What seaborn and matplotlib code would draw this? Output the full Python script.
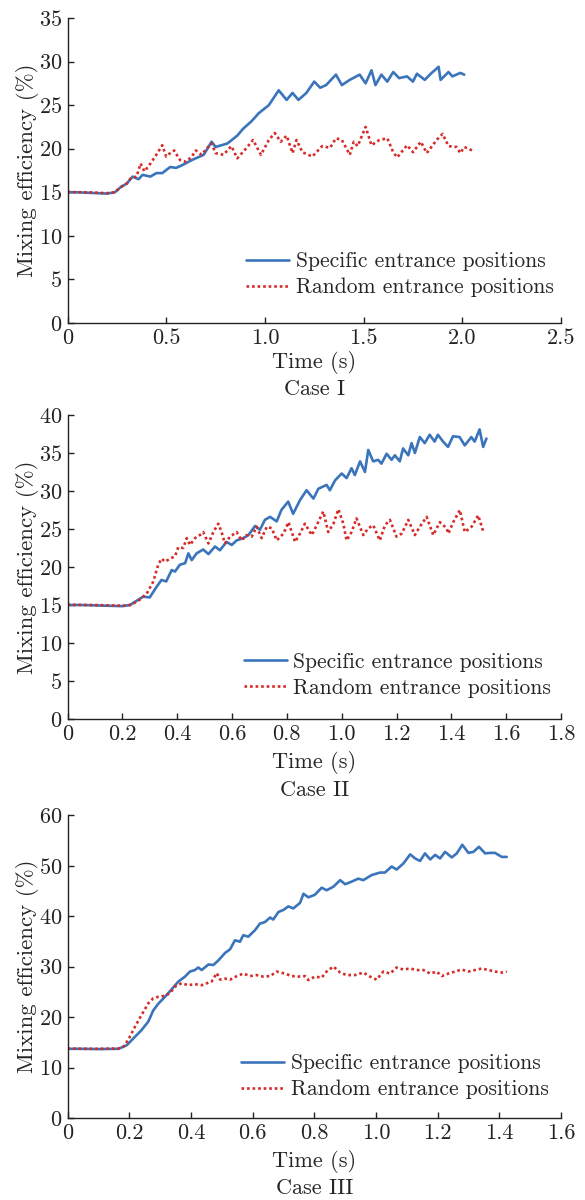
import matplotlib
matplotlib.use("Agg")
import matplotlib.pyplot as plt
import seaborn as sns
import numpy as np

sns.set_style("white")
plt.rcParams['font.family'] = ['cmr10', 'DejaVu Serif']
plt.rcParams['axes.formatter.use_mathtext'] = True
plt.rcParams['mathtext.fontset'] = 'cm'

# ---- Case I ----
t1_spec = [0, 0.05, 0.10, 0.15, 0.20, 0.24, 0.27, 0.30, 0.33, 0.36, 0.38, 0.42, 0.45, 0.48,
           0.52, 0.55, 0.58, 0.63, 0.69, 0.73, 0.75, 0.81, 0.86, 0.89, 0.93, 0.97, 1.02, 1.07,
           1.11, 1.14, 1.17, 1.21, 1.25, 1.28, 1.31, 1.36, 1.39, 1.43, 1.48, 1.51, 1.54, 1.56,
           1.59, 1.62, 1.65, 1.68, 1.72, 1.75, 1.77, 1.81, 1.84, 1.88, 1.89, 1.93, 1.95, 1.99, 2.01]
v1_spec = [15.0, 15.0, 14.95, 14.9, 14.85, 15.0, 15.6, 16.0, 16.8, 16.5, 17.0, 16.8, 17.2, 17.2,
           17.9, 17.8, 18.1, 18.7, 19.3, 20.8, 20.2, 20.6, 21.5, 22.3, 23.1, 24.1, 25.0, 26.7,
           25.6, 26.4, 25.6, 26.4, 27.7, 27.0, 27.3, 28.5, 27.3, 27.9, 28.5, 27.5, 29.0, 27.3,
           28.5, 27.7, 28.8, 28.1, 28.3, 27.7, 28.6, 27.9, 28.6, 29.4, 27.9, 28.8, 28.3, 28.7, 28.5]
t1_rand = [0, 0.05, 0.10, 0.15, 0.20, 0.24, 0.27, 0.30, 0.32, 0.35, 0.37, 0.39, 0.42, 0.45,
           0.48, 0.50, 0.52, 0.54, 0.57, 0.60, 0.63, 0.65, 0.68, 0.70, 0.73, 0.75, 0.79, 0.83,
           0.86, 0.90, 0.94, 0.98, 1.02, 1.05, 1.08, 1.11, 1.14, 1.16, 1.19, 1.24, 1.29, 1.33,
           1.36, 1.39, 1.43, 1.45, 1.47, 1.51, 1.54, 1.58, 1.62, 1.65, 1.67, 1.72, 1.75, 1.79,
           1.82, 1.87, 1.90, 1.93, 1.97, 1.99, 2.01, 2.05]
v1_rand = [15.05, 15.0, 15.0, 14.95, 14.9, 15.0, 15.6, 16.0, 16.6, 16.8, 18.3, 17.4, 18.3, 19.3,
           20.4, 19.1, 19.5, 19.8, 18.7, 18.5, 19.1, 19.8, 19.3, 19.9, 20.6, 19.5, 19.3, 20.3,
           18.9, 19.9, 21.0, 19.3, 21.0, 21.8, 20.8, 21.5, 19.5, 21.0, 19.6, 19.1, 20.3, 20.1,
           21.2, 21.0, 19.3, 20.8, 20.3, 22.5, 20.4, 21.0, 21.2, 19.6, 19.0, 20.4, 19.6, 20.8,
           19.5, 21.0, 21.7, 20.3, 20.2, 19.5, 20.2, 19.8]

# ---- Case II ----
t2_spec = [0, 0.05, 0.10, 0.15, 0.20, 0.228, 0.276, 0.30, 0.325, 0.343, 0.36, 0.38, 0.392, 0.41,
           0.429, 0.441, 0.453, 0.471, 0.495, 0.514, 0.538, 0.556, 0.58, 0.599, 0.617, 0.641,
           0.66, 0.684, 0.702, 0.72, 0.739, 0.763, 0.78, 0.805, 0.823, 0.848, 0.872, 0.897,
           0.915, 0.945, 0.957, 0.976, 1.0, 1.018, 1.036, 1.048, 1.067, 1.085, 1.097, 1.115,
           1.133, 1.145, 1.164, 1.182, 1.194, 1.212, 1.224, 1.243, 1.255, 1.267, 1.285, 1.303,
           1.321, 1.339, 1.351, 1.37, 1.388, 1.406, 1.43, 1.449, 1.473, 1.485, 1.503, 1.516, 1.528]
v2_spec = [15.0, 15.0, 14.95, 14.9, 14.85, 15.0, 16.1, 16.0, 17.4, 18.3, 18.1, 19.6, 19.4, 20.3,
           20.5, 21.8, 20.9, 21.8, 22.3, 21.7, 22.7, 22.2, 23.3, 22.9, 23.5, 23.8,
           24.2, 25.4, 24.9, 26.2, 26.6, 26.0, 27.5, 28.6, 27.0, 28.8, 30.1, 29.0,
           30.3, 30.8, 30.1, 31.4, 32.3, 31.7, 33.0, 32.1, 33.9, 32.5, 35.4, 33.9,
           34.1, 33.6, 34.9, 34.1, 34.7, 33.9, 35.6, 34.7, 36.3, 35.0, 37.1, 36.3,
           37.4, 36.5, 37.4, 36.5, 35.8, 37.2, 37.1, 36.0, 37.1, 36.5, 38.1, 35.8, 36.9]
t2_rand = [0, 0.05, 0.10, 0.15, 0.20, 0.23, 0.26, 0.289, 0.313, 0.331, 0.343, 0.356, 0.374,
           0.392, 0.404, 0.422, 0.435, 0.447, 0.465, 0.483, 0.495, 0.514, 0.532, 0.55, 0.562,
           0.574, 0.593, 0.617, 0.635, 0.653, 0.672, 0.69, 0.708, 0.727, 0.745, 0.763, 0.788,
           0.806, 0.83, 0.848, 0.866, 0.891, 0.909, 0.933, 0.951, 0.97, 0.988, 1.006, 1.018,
           1.036, 1.054, 1.079, 1.097, 1.115, 1.139, 1.158, 1.176, 1.2, 1.219, 1.243, 1.267,
           1.285, 1.31, 1.334, 1.358, 1.383, 1.389, 1.407, 1.431, 1.449, 1.474, 1.498, 1.517]
v2_rand = [15.05, 15.0, 15.0, 14.95, 14.9, 15.0, 15.6, 16.5, 18.1, 20.3, 21.1, 20.7, 21.1,
           21.4, 22.6, 22.5, 23.8, 22.9, 23.8, 24.2, 24.6, 23.1, 24.6, 25.7, 24.6,
           23.1, 24.0, 24.6, 23.5, 24.2, 24.0, 25.3, 23.8, 25.3, 25.1, 23.5, 24.4,
           25.9, 23.3, 24.4, 25.7, 24.2, 25.5, 27.3, 24.6, 25.7, 27.6, 25.7, 23.5,
           24.6, 26.4, 24.2, 25.1, 25.5, 23.5, 25.5, 26.2, 24.0, 24.4, 26.2, 24.2,
           25.3, 26.6, 24.2, 25.9, 25.1, 24.4, 25.9, 27.5, 24.6, 25.3, 26.8, 24.6]

# ---- Case III ----
t3_spec = [0, 0.05, 0.10, 0.165, 0.192, 0.219, 0.24, 0.262, 0.278, 0.294, 0.316, 0.338, 0.359,
           0.381, 0.397, 0.413, 0.424, 0.435, 0.457, 0.473, 0.489, 0.511, 0.527, 0.543, 0.559,
           0.57, 0.586, 0.608, 0.624, 0.64, 0.657, 0.667, 0.684, 0.7, 0.716, 0.732, 0.754,
           0.765, 0.781, 0.802, 0.824, 0.84, 0.862, 0.884, 0.9, 0.921, 0.943, 0.959, 0.986,
           1.013, 1.029, 1.051, 1.067, 1.089, 1.111, 1.127, 1.143, 1.159, 1.176, 1.192, 1.208,
           1.224, 1.246, 1.262, 1.28, 1.3, 1.316, 1.334, 1.354, 1.37, 1.386, 1.408, 1.424]
v3_spec = [13.7, 13.7, 13.65, 13.7, 14.4, 16.1, 17.4, 19.1, 21.3, 22.6, 24.0, 25.5, 27.0,
           28.0, 29.0, 29.3, 29.8, 29.3, 30.4, 30.3, 31.2, 32.7, 33.4, 35.2, 34.9,
           36.2, 35.9, 37.2, 38.5, 38.8, 39.7, 39.3, 40.8, 41.2, 41.9, 41.5, 42.6,
           44.4, 43.7, 44.2, 45.6, 45.1, 45.8, 47.1, 46.3, 46.8, 47.4, 47.1, 48.1,
           48.6, 48.6, 49.8, 49.2, 50.4, 52.2, 51.4, 50.9, 52.4, 51.2, 52.1, 51.4,
           52.7, 51.6, 52.4, 54.1, 52.5, 52.7, 53.7, 52.4, 52.5, 52.5, 51.7, 51.7]
t3_rand = [0, 0.05, 0.10, 0.165, 0.181, 0.197, 0.219, 0.24, 0.262, 0.278, 0.294, 0.316, 0.332,
           0.348, 0.37, 0.391, 0.413, 0.435, 0.457, 0.467, 0.484, 0.495, 0.511, 0.527, 0.549,
           0.57, 0.592, 0.613, 0.635, 0.657, 0.678, 0.705, 0.727, 0.749, 0.77, 0.781, 0.802,
           0.824, 0.84, 0.862, 0.884, 0.905, 0.932, 0.959, 0.981, 1.002, 1.024, 1.046, 1.067,
           1.089, 1.111, 1.132, 1.154, 1.176, 1.197, 1.213, 1.235, 1.257, 1.278, 1.3, 1.321,
           1.343, 1.365, 1.386, 1.408, 1.424]
v3_rand = [13.75, 13.7, 13.7, 13.75, 14.1, 15.5, 18.1, 20.4, 22.7, 23.7, 24.0, 24.2, 24.7,
           26.0, 26.7, 26.3, 26.5, 26.3, 26.8, 27.0, 28.7, 27.4, 27.6, 27.4, 28.1,
           28.6, 28.1, 28.3, 28.0, 28.1, 29.0, 28.6, 28.1, 28.0, 28.1, 27.3, 28.0,
           27.8, 29.0, 30.0, 28.8, 28.3, 28.3, 28.8, 28.0, 27.4, 29.0, 28.6, 29.8,
           29.4, 29.6, 29.3, 29.3, 28.6, 29.0, 28.1, 28.6, 29.0, 29.4, 29.0, 29.3,
           29.6, 29.3, 29.0, 28.8, 29.0]

cases = ["Case I", "Case II", "Case III"]
xlims = [(0, 2.5), (0, 1.8), (0, 1.6)]
xsteps = [0.5, 0.2, 0.2]
ylims = [(0, 35), (0, 40), (0, 60)]
ysteps = [5, 5, 10]
series = [(t1_spec, v1_spec, t1_rand, v1_rand),
          (t2_spec, v2_spec, t2_rand, v2_rand),
          (t3_spec, v3_spec, t3_rand, v3_rand)]

blue = "#3a74ba"
red = "#d62a27"
fs = 16

W, H = 585, 1200
fig = plt.figure(figsize=(W / 100, H / 100), dpi=100)
# axes pixel boxes: left, top, right, bottom
boxes = [(67.5, 18, 561, 323), (67.5, 415, 561, 719), (67.5, 815, 561, 1118)]
case_off = [66, 71, 70]   # pixels below the axis
xlab_pad = [2, 5, 5]
leg_anchor = [(0.985, 0.085), (0.98, 0.07), (0.975, 0.062)]

for i in range(3):
    l, t, r, b = boxes[i]
    ax = fig.add_axes([l / W, 1 - b / H, (r - l) / W, (b - t) / H])
    ts, vs, tr, vr = series[i]
    sns.lineplot(x=ts, y=vs, ax=ax, color=blue, linewidth=1.9, label="Specific entrance positions")
    sns.lineplot(x=tr, y=vr, ax=ax, color=red, linewidth=1.9, linestyle=(0, (1, 1.1)),
                 label="Random entrance positions")
    ax.set_xlim(*xlims[i])
    ax.set_ylim(*ylims[i])
    xt = np.round(np.arange(xlims[i][0], xlims[i][1] + 1e-9, xsteps[i]), 1)
    ax.set_xticks(xt)
    ax.set_xticklabels(["0"] + ["%.1f" % v for v in xt[1:]])
    ax.set_yticks(np.arange(ylims[i][0], ylims[i][1] + 1e-9, ysteps[i]))
    for s in ["top", "right"]:
        ax.spines[s].set_visible(False)
    for s in ["left", "bottom"]:
        ax.spines[s].set_color("#222222")
        ax.spines[s].set_linewidth(1.0)
    ax.tick_params(direction="in", length=4, width=1, labelsize=fs, colors="#222222",
                   left=True, bottom=True, pad=4)
    ax.set_xlabel("Time (s)", fontsize=fs, labelpad=xlab_pad[i])
    ax.set_ylabel("Mixing efficiency (%)", fontsize=fs + 0.5, labelpad=0)
    ax.text(0.5, -case_off[i] / (b - t), cases[i], transform=ax.transAxes, ha="center",
            va="center", fontsize=fs)
    ax.legend(loc="lower right", bbox_to_anchor=leg_anchor[i], frameon=False, fontsize=15.5,
              handlelength=2.0, handletextpad=0.3, labelspacing=0.3, borderaxespad=0,
              borderpad=0)
    ax.grid(False)

fig.savefig("out.png", dpi=100)
